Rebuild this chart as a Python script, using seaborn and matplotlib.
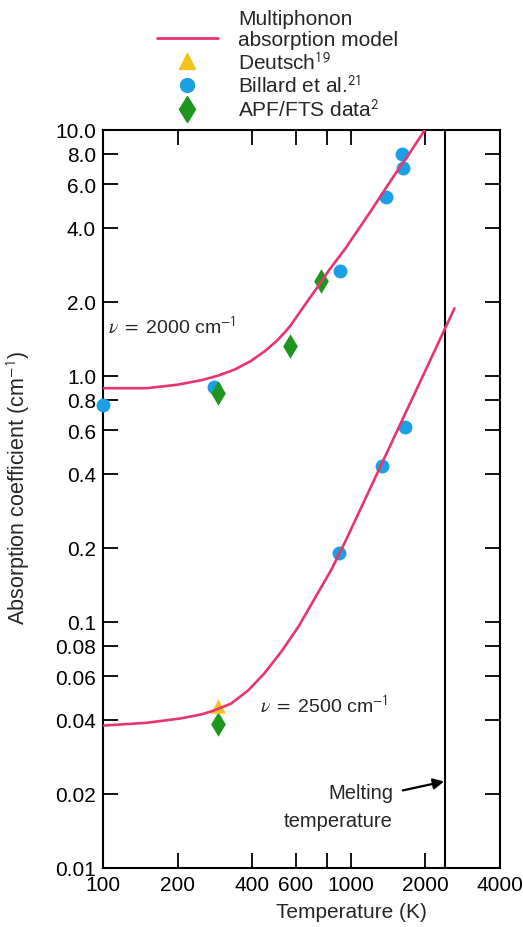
# Multiphonon absorption coefficient vs temperature, two frequencies
import pandas as pd
import seaborn as sns
import matplotlib.pyplot as plt
from matplotlib.lines import Line2D

# model curves
t_2000 = [100, 150, 200, 250, 290, 340, 396, 450, 500, 541, 571, 650, 757, 815, 948,
          1200, 1500, 1750, 1990]
a_2000 = [0.89, 0.89, 0.92, 0.96, 1.0, 1.06, 1.15, 1.26, 1.38, 1.50, 1.60, 1.93, 2.40,
          2.68, 3.28, 4.65, 6.55, 8.2, 10.0]
t_2500 = [100, 150, 205, 250, 280, 328, 385, 447, 524, 615, 714, 838, 946, 1200, 1500,
          2000, 2620]
a_2500 = [0.0378, 0.0388, 0.0404, 0.0420, 0.0435, 0.0464, 0.0525, 0.0615, 0.0755, 0.0955,
          0.124, 0.164, 0.21, 0.35, 0.566, 1.05, 1.88]

# measured points
billard_t = [100, 280, 902, 1387, 1627, 1611, 893, 1336, 1658]
billard_a = [0.76, 0.90, 2.67, 5.35, 7.0, 7.98, 0.19, 0.43, 0.62]
apf_t = [290, 570, 755, 290]
apf_a = [0.85, 1.32, 2.43, 0.0385]
deutsch_t = [290]
deutsch_a = [0.0456]

melt_t = 2400

x_ticks = [100, 200, 400, 600, 800, 1000, 2000, 4000]
x_labels = ['100', '200', '400', '600', '', '1000', '2000', '4000']
y_ticks = [0.01, 0.02, 0.04, 0.06, 0.08, 0.1, 0.2, 0.4, 0.6, 0.8, 1.0, 2.0, 4.0, 6.0, 8.0, 10.0]
y_labels = ['0.01', '0.02', '0.04', '0.06', '0.08', '0.1', '0.2', '0.4', '0.6', '0.8',
            '1.0', '2.0', '4.0', '6.0', '8.0', '10.0']

pink = '#e8356f'
yellow = '#f4c21c'
blue = '#1c9fe4'
green = '#1e961e'

curves = pd.concat([
    pd.DataFrame({'T': t_2000, 'alpha': a_2000, 'nu': '2000'}),
    pd.DataFrame({'T': t_2500, 'alpha': a_2500, 'nu': '2500'}),
])
billard = pd.DataFrame({'T': billard_t, 'alpha': billard_a})
apf = pd.DataFrame({'T': apf_t, 'alpha': apf_a})
deutsch = pd.DataFrame({'T': deutsch_t, 'alpha': deutsch_a})

sns.set_theme(style='ticks')
plt.rcParams['font.family'] = ['Liberation Sans', 'DejaVu Sans']
plt.rcParams['mathtext.fontset'] = 'stix'

fig = plt.figure(figsize=(5.23, 9.28), dpi=100)
ax = fig.add_axes([0.197, 0.064, 0.759, 0.795])
ax.set_xscale('log')
ax.set_yscale('log')

sns.scatterplot(data=billard, x='T', y='alpha', color=blue, marker='o', s=100,
                linewidth=0, clip_on=False, zorder=3, ax=ax)
sns.scatterplot(data=apf, x='T', y='alpha', color=green, marker='d', s=155,
                linewidth=0, clip_on=False, zorder=3, ax=ax)
sns.scatterplot(data=deutsch, x='T', y='alpha', color=yellow, marker='^', s=110,
                linewidth=0, clip_on=False, zorder=3, ax=ax)
sns.lineplot(data=curves, x='T', y='alpha', hue='nu', sort=False,
             palette={'2000': pink, '2500': pink}, linewidth=1.9,
             legend=False, zorder=4, ax=ax)

ax.axvline(melt_t, color='black', lw=1.5)

ax.set_xlim(100, 4000)
ax.set_ylim(0.01, 10)
ax.set_xticks(x_ticks, x_labels)
ax.set_yticks(y_ticks, y_labels)
ax.minorticks_off()
ax.tick_params(which='both', direction='in', length=11, width=1.3,
               top=True, right=True, labelsize=15, pad=5, colors='black')
for sp in ax.spines.values():
    sp.set_linewidth(1.5)
    sp.set_color('black')

ax.set_xlabel('Temperature (K)', fontsize=15)
ax.set_ylabel('Absorption coefficient (cm$^{\\mathsf{-1}}$)', fontsize=15.5)
ax.xaxis.set_label_coords(0.627, -0.046)
ax.yaxis.set_label_coords(-0.178, 0.516)

ax.text(105, 1.58, '$\\nu\\ =\\ $2000 cm$^{\\mathsf{-1}}$', fontsize=14, va='center')
ax.text(432, 0.0456, '$\\nu\\ =\\ $2500 cm$^{\\mathsf{-1}}$', fontsize=14, va='center')

ax.text(1480, 0.0178, 'Melting\ntemperature', fontsize=14.5, ha='right', va='center',
        linespacing=1.6)
ax.annotate('', xy=(2380, 0.0224), xytext=(1620, 0.0206),
            arrowprops=dict(arrowstyle='-|>', color='black', lw=1.6,
                            mutation_scale=16, shrinkA=0, shrinkB=0))

handles = [
    Line2D([], [], linestyle='none'),
    Line2D([], [], color=pink, lw=2),
    Line2D([], [], linestyle='none', marker='^', color=yellow, markersize=11),
    Line2D([], [], linestyle='none', marker='o', color=blue, markersize=10),
    Line2D([], [], linestyle='none', marker='d', color=green, markersize=13),
]
labels = ['Multiphonon', 'absorption model', 'Deutsch$^{\\mathsf{19}}$',
          'Billard et al.$^{\\mathsf{21}}$', 'APF/FTS data$^{\\mathsf{2}}$']
fig.legend(handles, labels, loc='upper left', bbox_to_anchor=(0.30, 0.9895),
           frameon=False, fontsize=15, handlelength=2.93, handletextpad=0.96,
           labelspacing=0.1, borderpad=0, borderaxespad=0)

fig.savefig('out.png', dpi=100)
